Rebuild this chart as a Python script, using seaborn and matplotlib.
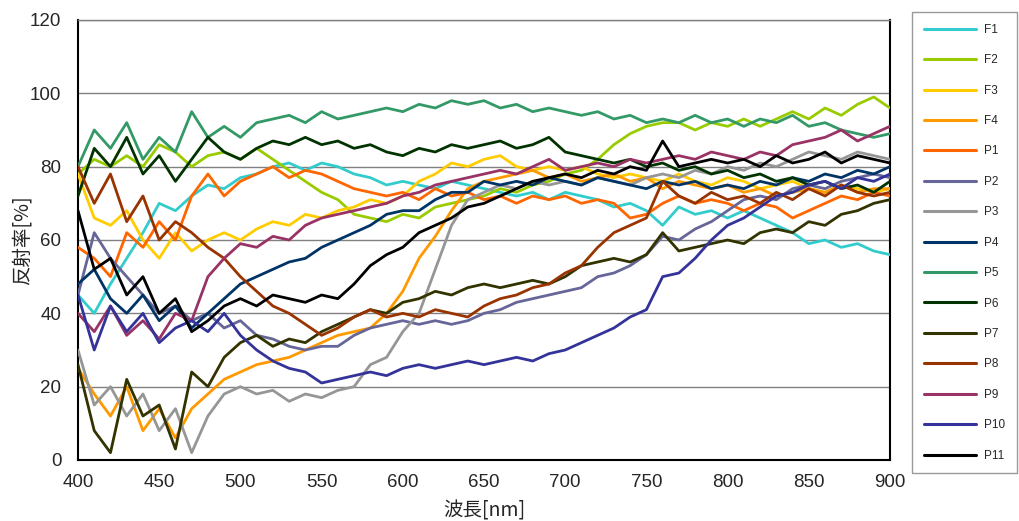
import numpy as np
import pandas as pd
import matplotlib
matplotlib.use("Agg")
import matplotlib.pyplot as plt
from matplotlib.lines import Line2D
import seaborn as sns

# wavelength grid (nm)
wavelength = list(range(400, 901, 10))

series_names = ["F1", "F2", "F3", "F4", "P1", "P2", "P3", "P4", "P5", "P6", "P7", "P8", "P9", "P10", "P11"]

F1 = [45, 40, 48, 55, 62, 70, 68, 72, 75, 74, 77, 78, 80, 81, 79, 81, 80, 78, 77, 75,
      76, 75, 74, 76, 75, 74, 73, 72, 73, 71, 73, 72, 71, 69, 70, 68, 64, 69, 67, 68,
      66, 68, 66, 64, 62, 59, 60, 58, 59, 57, 56]
F2 = [78, 82, 80, 83, 80, 86, 84, 80, 83, 84, 82, 85, 82, 79, 76, 73, 71, 67, 66, 65,
      67, 66, 69, 70, 71, 72, 74, 73, 75, 76, 78, 79, 82, 86, 89, 91, 92, 92, 90, 92,
      91, 93, 91, 93, 95, 93, 96, 94, 97, 99, 96]
F3 = [78, 66, 64, 68, 60, 55, 62, 57, 60, 62, 60, 63, 65, 64, 67, 66, 68, 69, 71, 70,
      72, 76, 78, 81, 80, 82, 83, 80, 79, 80, 79, 80, 78, 77, 78, 77, 76, 78, 76, 75,
      77, 76, 74, 75, 76, 74, 73, 75, 74, 73, 74]
F4 = [25, 18, 12, 20, 8, 14, 6, 14, 18, 22, 24, 26, 27, 28, 30, 32, 34, 35, 36, 40,
      46, 55, 61, 68, 74, 76, 77, 78, 79, 77, 78, 76, 77, 78, 76, 77, 74, 76, 75, 74,
      75, 73, 74, 72, 73, 74, 73, 75, 73, 74, 74]
P1 = [58, 55, 50, 62, 58, 65, 60, 72, 78, 72, 76, 78, 80, 77, 79, 78, 76, 74, 73, 72,
      73, 71, 74, 72, 73, 71, 72, 70, 72, 71, 72, 70, 71, 70, 66, 67, 70, 72, 70, 71,
      70, 68, 70, 69, 66, 68, 70, 72, 71, 73, 72]
P2 = [45, 62, 55, 50, 45, 40, 42, 38, 40, 36, 38, 34, 33, 31, 30, 31, 31, 34, 36, 37,
      38, 37, 38, 37, 38, 40, 41, 43, 44, 45, 46, 47, 50, 51, 53, 56, 61, 60, 63, 65,
      68, 71, 72, 71, 74, 75, 74, 76, 77, 78, 77]
P3 = [30, 15, 20, 12, 18, 8, 14, 2, 12, 18, 20, 18, 19, 16, 18, 17, 19, 20, 26, 28,
      35, 40, 52, 64, 71, 73, 75, 74, 76, 75, 76, 75, 77, 76, 75, 77, 78, 77, 79, 78,
      80, 79, 81, 80, 82, 84, 83, 82, 84, 83, 82]
P4 = [48, 52, 44, 40, 45, 38, 42, 36, 40, 44, 48, 50, 52, 54, 55, 58, 60, 62, 64, 67,
      68, 68, 71, 73, 73, 76, 75, 76, 75, 77, 76, 75, 77, 76, 75, 74, 76, 75, 76, 74,
      75, 74, 76, 75, 77, 76, 78, 77, 79, 78, 80]
P5 = [80, 90, 85, 92, 82, 88, 84, 95, 88, 91, 88, 92, 93, 94, 92, 95, 93, 94, 95, 96,
      95, 97, 96, 98, 97, 98, 96, 97, 95, 96, 95, 94, 95, 93, 94, 92, 93, 92, 94, 92,
      93, 91, 93, 92, 94, 91, 92, 90, 89, 88, 89]
P6 = [72, 85, 80, 88, 78, 83, 76, 82, 88, 84, 82, 85, 87, 86, 88, 86, 87, 85, 86, 84,
      83, 85, 84, 86, 85, 86, 87, 85, 86, 88, 84, 83, 82, 81, 82, 80, 81, 79, 80, 78,
      79, 77, 78, 76, 77, 75, 76, 74, 75, 73, 76]
P7 = [26, 8, 2, 22, 12, 15, 3, 24, 20, 28, 32, 34, 31, 33, 32, 35, 37, 39, 41, 40,
      43, 44, 46, 45, 47, 48, 47, 48, 49, 48, 50, 53, 54, 55, 54, 56, 62, 57, 58, 59,
      60, 59, 62, 63, 62, 65, 64, 67, 68, 70, 71]
P8 = [80, 70, 78, 65, 72, 60, 65, 62, 58, 55, 50, 46, 42, 40, 37, 34, 36, 39, 41, 39,
      40, 39, 41, 40, 39, 42, 44, 45, 47, 48, 51, 53, 58, 62, 64, 66, 76, 72, 70, 73,
      71, 72, 70, 73, 71, 74, 72, 75, 73, 72, 73]
P9 = [40, 35, 42, 34, 38, 33, 40, 38, 50, 55, 59, 58, 61, 60, 64, 66, 67, 68, 69, 70,
      72, 73, 75, 76, 77, 78, 79, 78, 80, 82, 79, 80, 81, 80, 82, 81, 82, 83, 82, 84,
      83, 82, 84, 83, 86, 87, 88, 90, 87, 89, 91]
P10 = [45, 30, 42, 35, 40, 32, 36, 38, 35, 40, 34, 30, 27, 25, 24, 21, 22, 23, 24, 23,
       25, 26, 25, 26, 27, 26, 27, 28, 27, 29, 30, 32, 34, 36, 39, 41, 50, 51, 55, 60,
       64, 66, 69, 72, 73, 75, 76, 74, 77, 76, 78]
P11 = [68, 52, 55, 45, 50, 40, 44, 35, 38, 42, 44, 42, 45, 44, 43, 45, 44, 48, 53, 56,
       58, 62, 64, 66, 69, 70, 72, 74, 76, 77, 78, 77, 79, 78, 80, 79, 87, 80, 81, 82,
       81, 82, 80, 83, 81, 82, 84, 81, 83, 82, 81]

series_values = [F1, F2, F3, F4, P1, P2, P3, P4, P5, P6, P7, P8, P9, P10, P11]

series_colors = ["#33CCCC", "#99CC00", "#FFCC00", "#FF9900", "#FF6600", "#666699", "#969696",
                 "#003366", "#339966", "#003300", "#333300", "#993300", "#993366", "#333399", "#000000"]

x_ticks = [400, 450, 500, 550, 600, 650, 700, 750, 800, 850, 900]
y_ticks = [0, 20, 40, 60, 80, 100, 120]
x_label = "波長[nm]"
y_label = "反射率[%]"

# long-form table
rows = []
for name, vals in zip(series_names, series_values):
    for w, v in zip(wavelength, vals):
        rows.append({"nm": w, "R": v, "series": name})
df = pd.DataFrame(rows)

sns.set_style("white")
plt.rcParams["font.family"] = ["Liberation Sans", "Noto Sans CJK JP", "DejaVu Sans"]

fig = plt.figure(figsize=(10.19, 5.21), dpi=100)
ax = fig.add_axes([78 / 1019, 61 / 521, (890 - 78) / 1019, (460 - 20) / 521])

palette = dict(zip(series_names, series_colors))
sns.lineplot(data=df, x="nm", y="R", hue="series", hue_order=series_names,
             palette=palette, linewidth=2.0, ax=ax, legend=False, zorder=3)

ax.set_xlim(400, 900)
ax.set_ylim(0, 120)
ax.set_xticks(x_ticks)
ax.set_yticks(y_ticks)
ax.tick_params(axis="both", labelsize=13.5, direction="in", length=4, color="#555555")
ax.tick_params(axis="x", pad=10)
ax.tick_params(axis="y", pad=12)
ax.yaxis.grid(True, color="#808080", linewidth=1.0, zorder=0)
ax.xaxis.grid(False)
ax.set_axisbelow(True)
for side in ["left", "bottom", "right"]:
    ax.spines[side].set_color("black")
    ax.spines[side].set_linewidth(1.5)
ax.spines["top"].set_color("#808080")
ax.spines["top"].set_linewidth(1.0)

ax.set_xlabel(x_label, fontsize=14, family=["Noto Sans CJK JP", "DejaVu Sans"], labelpad=7)
ax.set_ylabel(y_label, fontsize=14, family=["Noto Sans CJK JP", "DejaVu Sans"])
ax.yaxis.set_label_coords(-0.056, 0.5)

handles = [Line2D([0], [0], color=c, linewidth=2.2) for c in series_colors]
leg = fig.legend(handles, series_names, loc="upper left",
                 bbox_to_anchor=(912 / 1019, 1 - 12 / 521), bbox_transform=fig.transFigure,
                 fontsize=8.5, frameon=True, fancybox=False, edgecolor="#808080",
                 labelspacing=1.56, handlelength=4.4, handletextpad=0.7,
                 borderpad=1.0, borderaxespad=0)
leg.get_frame().set_linewidth(1.0)

fig.savefig("out.png", dpi=100)
